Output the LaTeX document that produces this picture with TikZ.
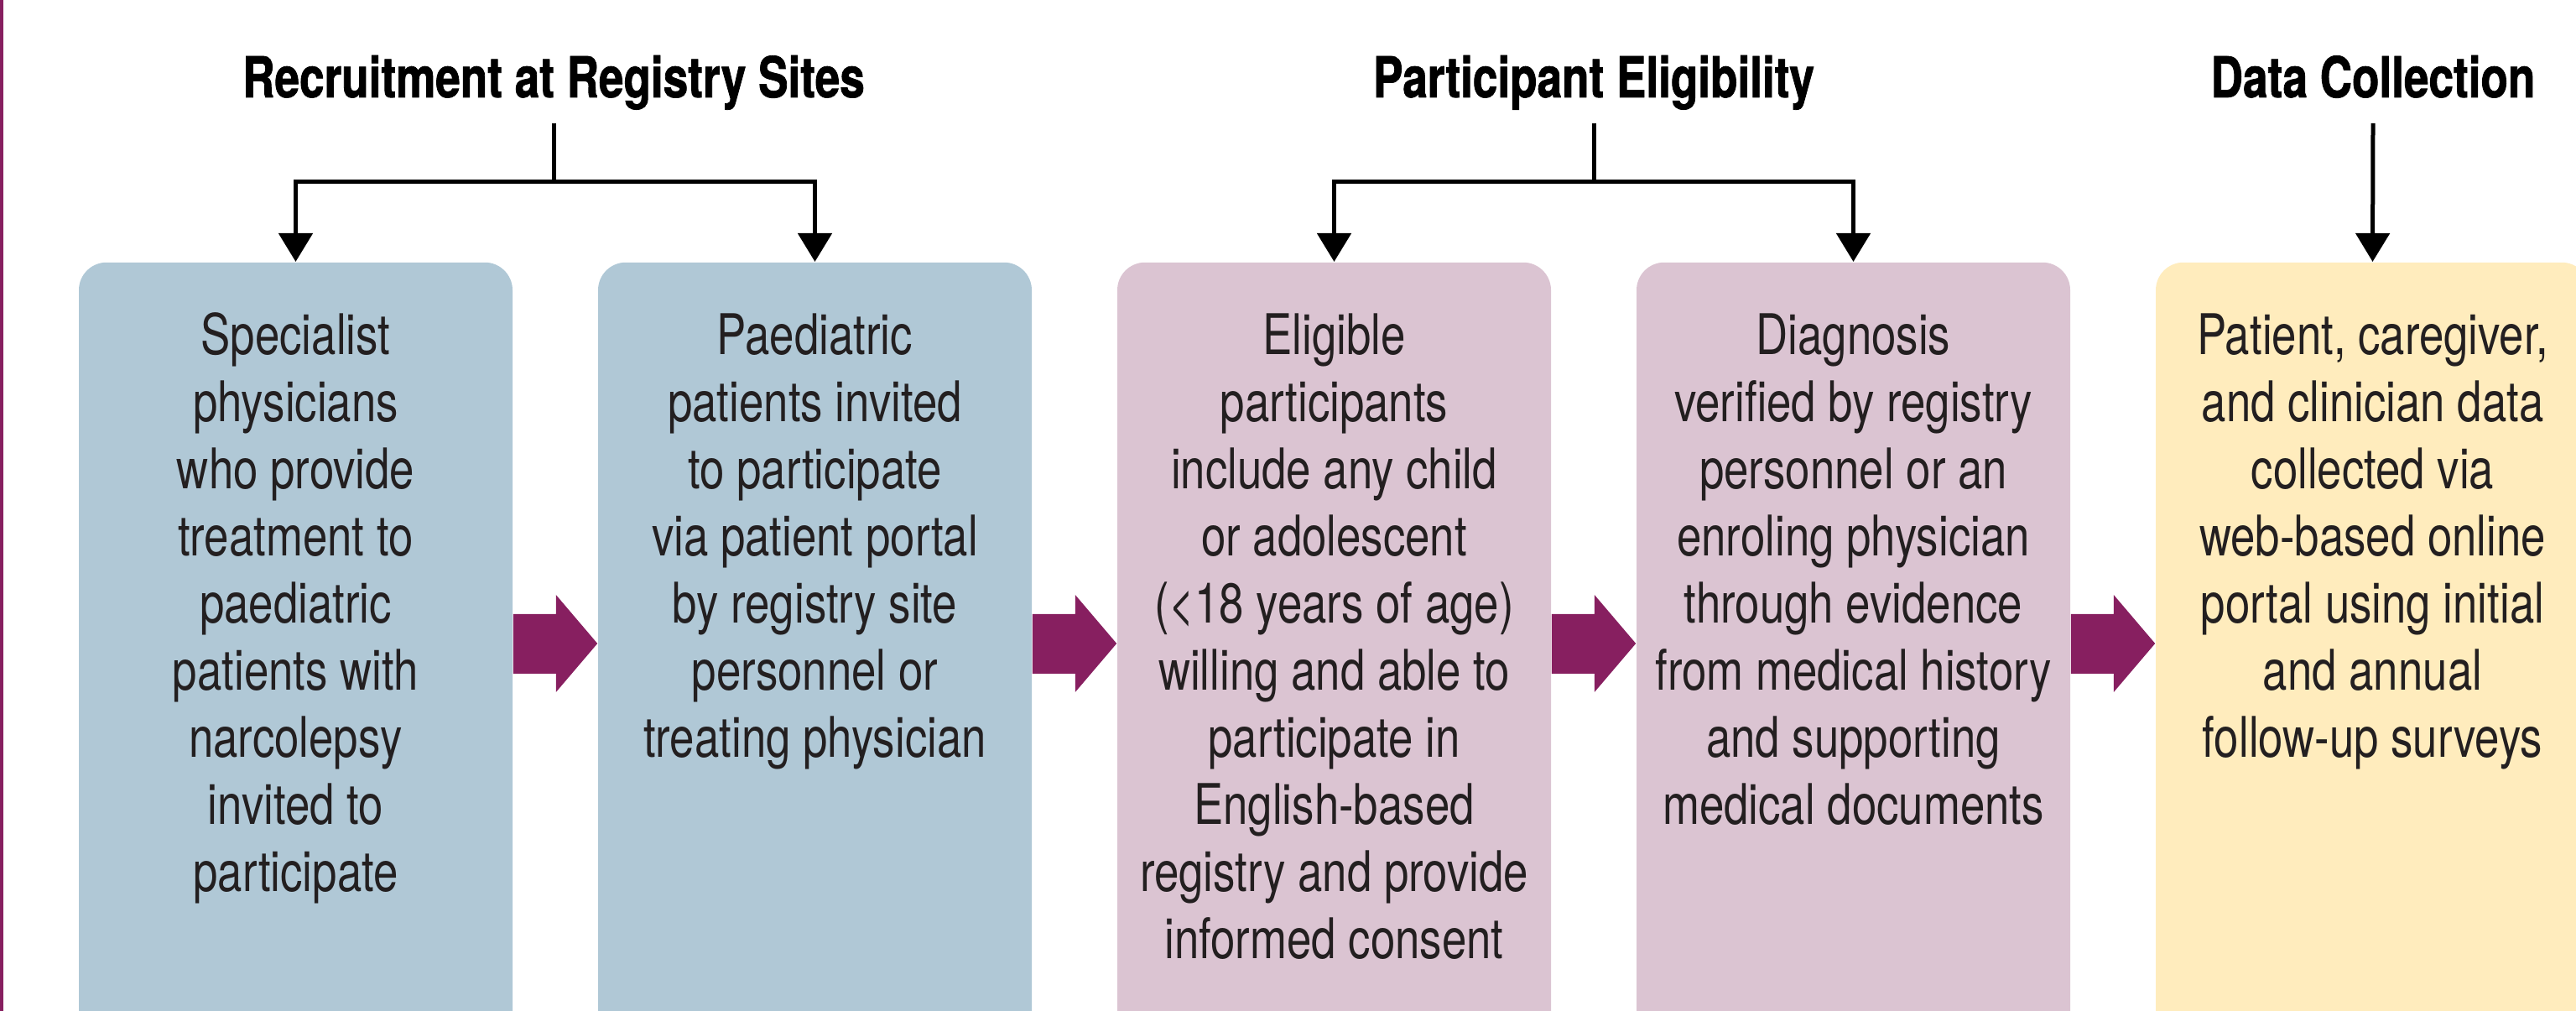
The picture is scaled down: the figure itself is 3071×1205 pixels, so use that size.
\documentclass[tikz,border=0pt]{standalone}
\usepackage{fontspec}
\setmainfont{TeX Gyre Heros}[FakeStretch=0.79, BoldFeatures={FakeBold=1.2}]
\usetikzlibrary{arrows.meta,calc}
\definecolor{boxblue}{RGB}{176,200,214}
\definecolor{boxpink}{RGB}{219,196,210}
\definecolor{boxyellow}{RGB}{255,236,189}
\definecolor{purp}{RGB}{135,31,96}
\definecolor{txt}{RGB}{35,31,32}
\begin{document}
\begin{tikzpicture}[x=0.25pt,y=-0.25pt,
  box/.style={draw=none, rounded corners=8.25pt, minimum width=129.25pt, minimum height=250pt, inner sep=0pt, anchor=north},
  bodytext/.style={font=\fontsize{16.7pt}{20pt}\selectfont, text=txt, align=center, inner sep=0pt, anchor=north},
  head/.style={font=\fontsize{16.8pt}{20pt}\selectfont\bfseries, text=black, inner sep=0pt, anchor=base},
  ln/.style={line width=1.25pt, draw=black},
  tip/.style={-{Triangle[length=8.5pt,width=10pt]}},
  blockarrow/.style={fill=purp, draw=none}]
\useasboundingbox (0,0) rectangle (3071,1205);
\begin{scope}
\clip (0,0) rectangle (3071,1205);
% left rule
\fill[purp] (0,0) rectangle (3.5,1205);
% boxes
\node[box, fill=boxblue] (b1) at (352.5,312) {};
\node[box, fill=boxblue] (b2) at (971.5,312) {};
\node[box, fill=boxpink] (b3) at (1590.5,312) {};
\node[box, fill=boxpink] (b4) at (2209.5,312) {};
\node[box, fill=boxyellow] (b5) at (2828.5,312) {};
\end{scope}
% headers
\node[head] (h1) at (660,116) {Recruitment at Registry Sites};
\node[head] (h2) at (1900,116) {Participant Eligibility};
\node[head] (h3) at (2829,116) {Data Collection};
% connectors from headers
\coordinate (j1) at (660,217);
\coordinate (j2) at (1900,217);
\draw[ln] ($(h1.base)+(0,31)$) -- (j1);
\draw[ln,tip] (j1) -| (b1.north);
\draw[ln,tip] (j1) -| (b2.north);
\draw[ln] ($(h2.base)+(0,31)$) -- (j2);
\draw[ln,tip] (j2) -| (b3.north);
\draw[ln,tip] (j2) -| (b4.north);
\draw[ln,tip] ($(h3.base)+(0,31)$) -- (b5.north);
% block arrows between boxes
\foreach \a/\b in {b1/b2,b2/b3,b3/b4,b4/b5}{
  \fill[blockarrow] ($(\a.north east)+(0,420)$) -- ($(\a.north east)+(51,420)$)
    -- ($(\a.north east)+(51,397)$) -- ($(\b.north west)+(0,455)$)
    -- ($(\a.north east)+(51,513)$) -- ($(\a.north east)+(51,491)$)
    -- ($(\a.north east)+(0,491)$) -- cycle;
}
% box texts
\node[bodytext] (t1) at ($(b1.north)+(0,54)$) {\strut Specialist\\physicians\\who provide\\treatment to\\paediatric\\patients with\\narcolepsy\\invited to\\participate};
\node[bodytext] (t2) at ($(b2.north)+(0,54)$) {\strut Paediatric\\patients invited\\to participate\\via patient portal\\by registry site\\personnel or\\treating physician};
\node[bodytext] (t3) at ($(b3.north)+(0,54)$) {\strut Eligible\\participants\\include any child\\or adolescent\\(<18 years of age)\\willing and able to\\participate in\\English-based\\registry and provide\\informed consent};
\node[bodytext] (t4) at ($(b4.north)+(0,54)$) {\strut Diagnosis\\verified by registry\\personnel or an\\enroling physician\\through evidence\\from medical history\\and supporting\\medical documents};
\node[bodytext] (t5) at ($(b5.north)+(0,54)$) {\strut Patient, caregiver,\\and clinician data\\collected via\\web-based online\\portal using initial\\and annual\\follow-up surveys};
\end{tikzpicture}
\end{document}
